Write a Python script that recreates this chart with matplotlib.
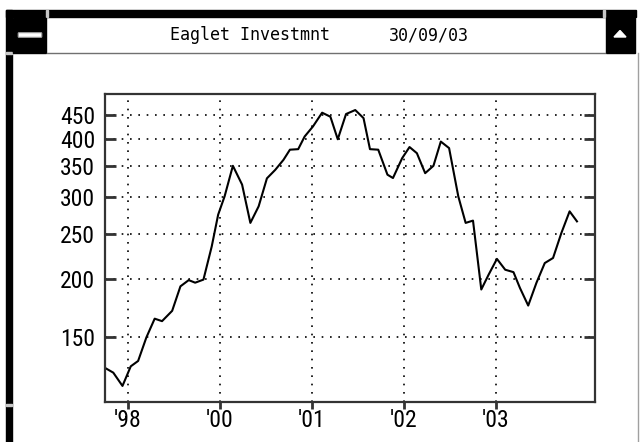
import numpy as np
import matplotlib
matplotlib.use("Agg")
import matplotlib.pyplot as plt
from matplotlib.patches import Rectangle, FancyBboxPatch, Polygon
from matplotlib.ticker import NullLocator
from matplotlib import font_manager

# price history (decimal years, price)
years = [1998.75, 1998.84, 1998.94, 1999.03, 1999.11, 1999.20, 1999.29, 1999.37,
         1999.48, 1999.57, 1999.66, 1999.73, 1999.82, 1999.91, 1999.98, 2000.05,
         2000.14, 2000.24, 2000.33, 2000.42, 2000.51, 2000.60, 2000.69, 2000.76,
         2000.85, 2000.92, 2001.01, 2001.11, 2001.20, 2001.28, 2001.37, 2001.47,
         2001.56, 2001.63, 2001.72, 2001.82, 2001.88, 2001.98, 2002.06, 2002.14,
         2002.23, 2002.32, 2002.40, 2002.49, 2002.59, 2002.67, 2002.75, 2002.84,
         2002.92, 2003.01, 2003.10, 2003.19, 2003.26, 2003.35, 2003.44, 2003.53,
         2003.62, 2003.71, 2003.80, 2003.88]
prices = [129, 126, 118, 130, 133.5, 150, 164.5, 162.5,
          171, 193, 199, 196.5, 199.5, 235, 275, 301,
          350, 319, 264, 286.5, 329, 343, 360.5, 379,
          380, 404.5, 425, 455, 446, 399, 452, 461,
          443, 380, 379, 335, 329.5, 363.5, 384, 372.5,
          337.5, 350, 394.5, 382, 301, 264, 267, 190,
          204.5, 221, 209.5, 207, 191.5, 175.5, 196.5, 216.5,
          222, 251, 279.5, 266]

ytick_vals = [150, 200, 250, 300, 350, 400, 450]
xtick_pos = [1999, 2000, 2001, 2002, 2003]
xtick_labels = ["'98", "'00", "'01", "'02", "'03"]
title = "Eaglet Investmnt"
date_str = "30/09/03"

# narrow face for the tick labels if one is around
names = {f.name for f in font_manager.fontManager.ttflist}
narrow = [n for n in ["Liberation Sans Narrow", "DejaVu Sans Condensed",
                      "Roboto Condensed", "Open Sans Condensed"] if n in names]
label_font = (narrow or ["DejaVu Sans"])[:1] + ["DejaVu Sans"]

fig = plt.figure(figsize=(6.4, 4.42), dpi=100)
fig.patch.set_facecolor("white")

# window chrome, drawn in pixel units
chrome = fig.add_axes([0, 0, 1, 1])
chrome.set_xlim(0, 640)
chrome.set_ylim(442, 0)
chrome.axis("off")
chrome.add_patch(Rectangle((6, 10), 630, 7, color="black"))
chrome.add_patch(Rectangle((46, 10), 2, 7, color="#c8c8c8"))
chrome.add_patch(Rectangle((603, 10), 2, 7, color="#c8c8c8"))
chrome.add_patch(Rectangle((6, 10), 6, 432, color="black"))
chrome.add_patch(Rectangle((6, 52), 6, 2, color="#c8c8c8"))
chrome.add_patch(Rectangle((6, 404), 6, 2, color="#c8c8c8"))
chrome.add_patch(Rectangle((13, 18), 33, 35, color="black"))
chrome.add_patch(FancyBboxPatch((19, 33.5), 22, 3, boxstyle="round,pad=0.8",
                                fc="white", ec="#a0a0a0", lw=0.8))
chrome.plot([47, 605], [52.5, 52.5], color="#707070", lw=1)
chrome.add_patch(Rectangle((606, 18), 29, 35, color="black"))
chrome.add_patch(Polygon([(614, 37), (626, 37), (620, 30.5)], color="white"))
chrome.plot([638, 638], [53, 442], color="#a0a0a0", lw=1)
chrome.text(250, 35, title, ha="center", va="center",
            family="DejaVu Sans Mono", fontsize=12)
chrome.text(429, 35, date_str, ha="center", va="center",
            family="DejaVu Sans Mono", fontsize=12)

ax = fig.add_axes([105 / 640, 1 - 402 / 442, 490 / 640, 308 / 442])
ax.plot(years, prices, color="black", lw=1.5)
ax.set_yscale("log")
ax.set_ylim(109, 499)
ax.set_xlim(1998.75, 2004.076)
ax.set_yticks(ytick_vals, labels=[str(v) for v in ytick_vals])
ax.yaxis.set_minor_locator(NullLocator())
ax.set_xticks(xtick_pos, labels=xtick_labels)
ax.xaxis.set_minor_locator(NullLocator())

ax.grid(True, linestyle=(0, (1, 4)), color="black", lw=1.2)
ax.tick_params(axis="y", direction="in", length=8, width=2, left=True, right=True,
               color="#333333", labelsize=17, pad=7)
ax.tick_params(axis="x", direction="out", length=5, width=2,
               color="#333333", labelsize=17, pad=0)
for lab in ax.get_xticklabels() + ax.get_yticklabels():
    lab.set_family(label_font)
    lab.set_stretch("condensed")
for sp in ax.spines.values():
    sp.set_linewidth(1.6)
    sp.set_color("#333333")

fig.savefig("out.png", dpi=100)
